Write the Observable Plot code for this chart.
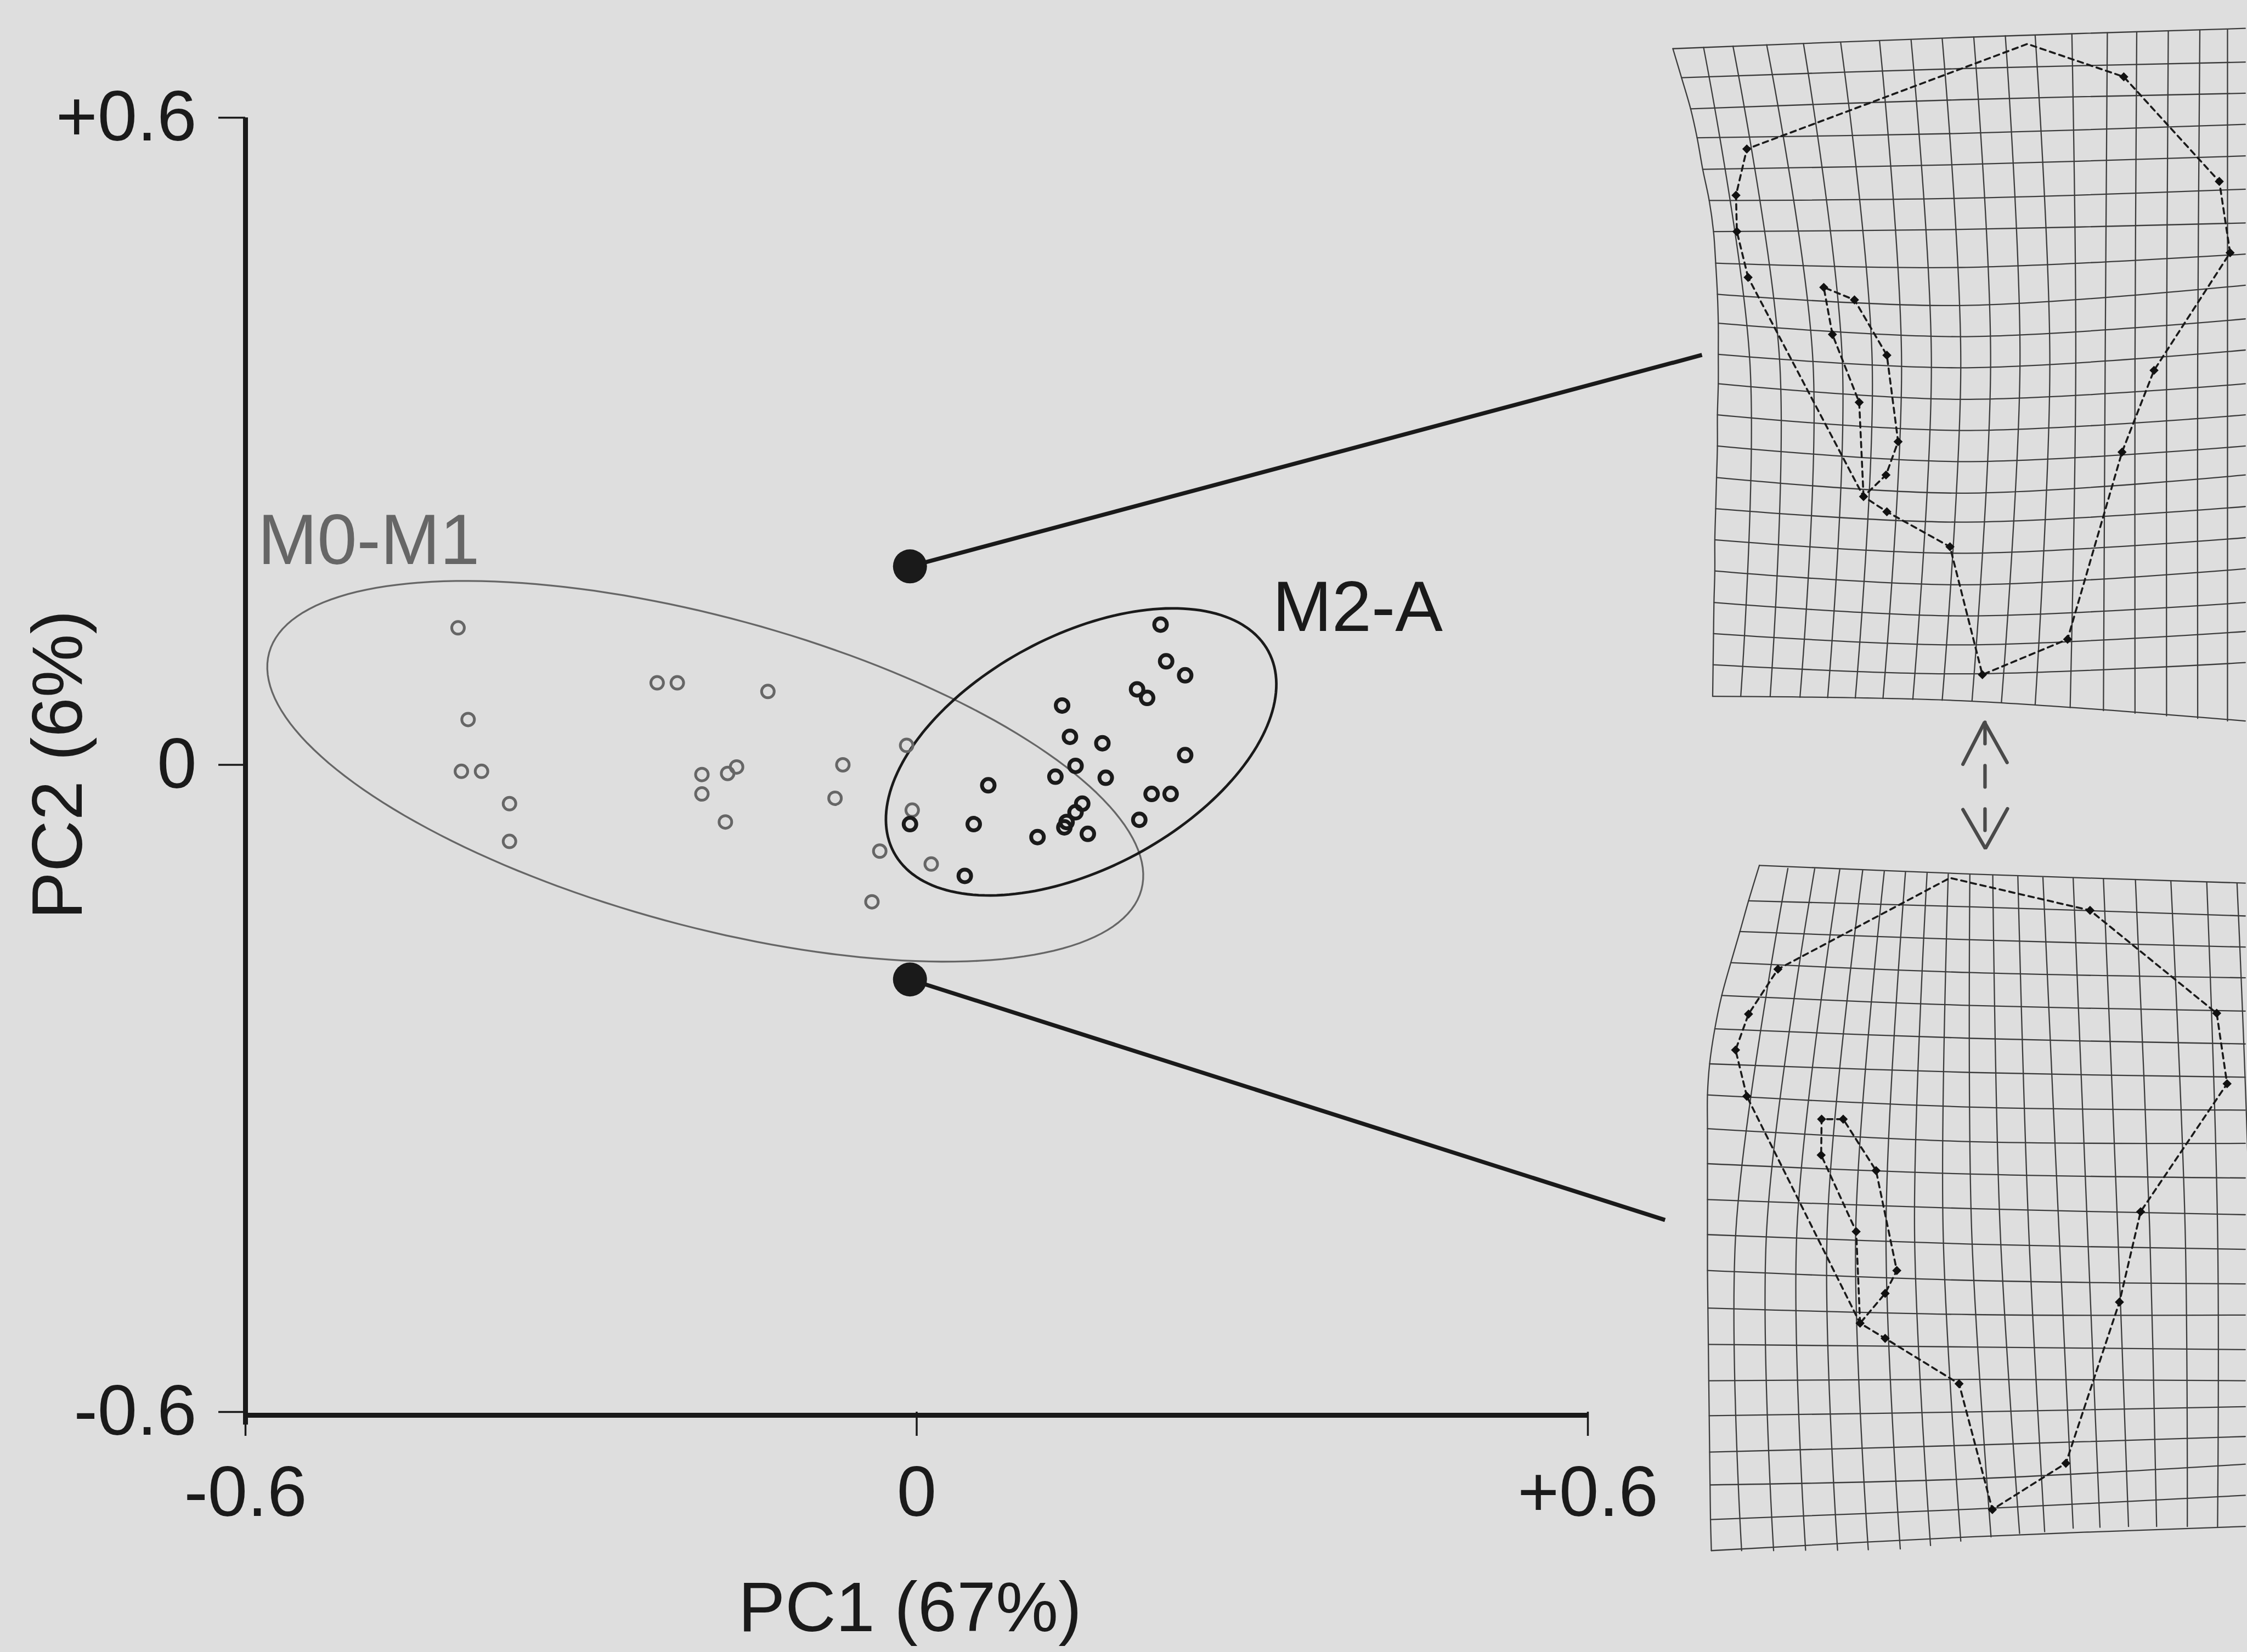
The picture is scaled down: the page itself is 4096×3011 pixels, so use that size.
<!DOCTYPE html>
<html>
<head>
<meta charset="utf-8">
<script src="https://cdn.jsdelivr.net/npm/d3@7"></script>
<script src="https://cdn.jsdelivr.net/npm/@observablehq/plot@0.6"></script>
<style>
html, body { margin: 0; padding: 0; background: #dedede; overflow: hidden; }
#wrap { position: relative; width: 4096px; height: 3011px; overflow: hidden; }
</style>
</head>
<body>
<div id="wrap"></div>
<script>
// ---------------- PCA scatter data ----------------
const xTicks = [-0.6, 0, 0.6];
const xTickLabels = ["-0.6", "0", "+0.6"];
const yTicks = [-0.6, 0, 0.6];
const yTickLabels = ["-0.6", "0", "+0.6"];
const xTitle = "PC1 (67%)";
const yTitle = "PC2 (6%)";

// group M0-M1 (grey open circles)
const m01X = [-0.410,-0.232,-0.214,-0.133,-0.401,-0.407,-0.389,-0.364,-0.364,-0.192,-0.169,-0.161,-0.192,-0.171,-0.066,-0.073,-0.009,-0.004,-0.033,0.013,-0.040];
const m01Y = [0.127,0.076,0.076,0.068,0.042,-0.006,-0.006,-0.036,-0.071,-0.009,-0.008,-0.002,-0.027,-0.053,0.000,-0.031,0.018,-0.042,-0.080,-0.092,-0.127];
// group M2-A (black open circles)
const m2aX = [0.218,0.223,0.240,0.197,0.206,0.130,0.137,0.166,0.240,0.142,0.124,0.169,0.064,0.210,0.227,0.148,0.142,0.134,0.132,0.199,0.153,0.108,0.051,-0.006,0.043];
const m2aY = [0.130,0.096,0.083,0.070,0.062,0.055,0.026,0.020,0.009,-0.001,-0.011,-0.012,-0.019,-0.027,-0.027,-0.036,-0.044,-0.053,-0.058,-0.051,-0.064,-0.067,-0.055,-0.055,-0.103];

// group ellipses (centre, semi-axes in PC1 units, tilt in degrees, counter-clockwise)
const groupNames = ["M0-M1", "M2-A"];
const ellipseCX = [-0.189, 0.147];
const ellipseCY = [-0.006, 0.012];
const ellipseA = [0.404, 0.190];
const ellipseB = [0.138, 0.104];
const ellipseAngle = [-15.2, 28.2];

// group labels
const groupLabelX = [-0.589, 0.318];
const groupLabelY = [0.186, 0.124];

// extremes of PC2 shown as deformation grids
const extremeX = [-0.006, -0.006];
const extremeY = [0.184, -0.199];
const connectorX2 = [0.702, 0.669];
const connectorY2 = [0.380, -0.422];

// ---------------- deformation grid data (inset units) ----------------
// upper grid (PC2 +): rows [leftU, leftV, midV, rightV]
const upMidU = 6.85, upRightU = 13.43, upColMidV = 8.35;
const upRows = [
[0.19,1.12,0.86,0.65],[0.39,1.79,1.58,1.43],[0.60,2.51,2.30,2.15],[0.75,3.18,3.08,2.87],
[0.88,3.91,3.80,3.60],[1.03,4.63,4.58,4.37],[1.13,5.35,5.30,5.15],[1.18,6.08,6.18,5.87],
[1.22,6.80,7.06,6.59],[1.24,7.47,7.78,7.37],[1.24,8.19,8.50,8.09],[1.24,8.87,9.23,8.87],
[1.22,9.59,9.95,9.59],[1.22,10.31,10.67,10.31],[1.20,11.04,11.40,10.98],[1.18,11.76,12.07,11.71],
[1.16,12.48,12.79,12.43],[1.16,13.20,13.52,13.15],[1.14,13.93,14.24,13.93],[1.13,14.65,14.91,14.60],
[1.12,15.37,15.58,15.32],[1.11,16.10,16.20,16.67]];
// columns [topU, topV, midU, botU, botV]
const upCols = [
[0.90,1.09,1.97,1.76,16.10],[1.58,1.06,2.66,2.44,16.11],[2.36,1.03,3.43,3.13,16.12],
[3.21,1.00,4.11,3.77,16.13],[4.07,0.97,4.80,4.41,16.14],[4.97,0.94,5.48,5.05,16.15],
[5.70,0.92,6.17,5.74,16.17],[6.42,0.89,6.85,6.42,16.19],[7.15,0.85,7.54,7.11,16.20],
[7.88,0.82,8.22,7.79,16.24],[8.57,0.81,8.91,8.57,16.30],[9.42,0.78,9.51,9.38,16.36],
[10.24,0.75,10.19,10.15,16.43],[10.92,0.73,10.88,10.88,16.49],[11.65,0.71,11.61,11.61,16.55],
[12.38,0.69,12.33,12.33,16.61],[13.02,0.67,13.02,13.02,16.67]];
const upLmU = [1.90,1.65,1.67,1.93,3.68,4.39,3.88,5.14,4.50,5.40,5.12,4.60,5.14,6.60,7.35,9.32,10.58,11.32,13.08,12.83,10.62];
const upLmV = [3.44,4.51,5.35,6.41,6.64,6.93,7.73,8.21,9.30,10.21,10.98,11.48,11.83,12.64,15.60,14.78,10.45,8.56,5.84,4.19,1.77];
const upApex = [8.39, 1.01];

// lower grid (PC2 -)
const loMidU = 7.10, loRightU = 13.43, loColMidV = 28.42;
const loRows = [
[2.19,20.01,20.21,20.42],[1.94,20.83,20.97,21.18],[1.74,21.54,21.73,21.90],[1.53,22.26,22.49,22.61],
[1.32,23.02,23.25,23.38],[1.16,23.79,24.01,24.14],[1.04,24.60,24.80,24.91],[0.99,25.32,25.60,25.67],
[0.99,26.10,26.40,26.44],[0.99,26.91,27.15,27.24],[0.99,27.74,27.95,28.09],[0.99,28.55,28.77,28.89],
[0.99,29.38,29.61,29.69],[1.00,30.25,30.40,30.41],[1.01,31.09,31.15,31.21],[1.02,31.93,31.90,31.93],
[1.03,32.74,32.65,32.53],[1.04,33.58,33.42,33.22],[1.05,34.34,34.20,33.86],[1.06,35.14,34.90,34.58],
[1.08,35.86,35.54,35.30]];
const loCols = [
[2.85,20.08,1.65,1.78,35.86],[3.47,20.09,2.36,2.52,35.86],[4.05,20.11,3.06,3.26,35.85],
[4.58,20.13,3.76,4.00,35.85],[5.08,20.15,4.42,4.71,35.84],[5.57,20.17,5.12,5.45,35.82],
[6.07,20.19,5.78,6.15,35.74],[6.56,20.21,6.44,6.85,35.64],[7.06,20.23,7.10,7.55,35.54],
[7.59,20.24,7.76,8.21,35.46],[8.17,20.27,8.42,8.79,35.42],[8.75,20.29,9.12,9.45,35.34],
[9.45,20.31,9.78,10.07,35.32],[10.15,20.33,10.48,10.73,35.30],[10.89,20.35,11.22,11.38,35.30],
[11.71,20.38,12.04,12.09,35.30],[12.54,20.40,12.79,12.79,35.30],[13.24,20.42,13.53,13.50,35.30]];
const loLmU = [2.62,1.94,1.64,1.90,3.63,4.13,3.62,4.89,4.43,5.37,5.10,4.52,5.10,6.81,7.58,9.28,10.52,11.01,13.01,12.77,9.84];
const loLmV = [22.41,23.45,24.28,25.35,25.88,25.88,26.71,27.07,28.48,29.38,29.91,30.60,30.95,32.00,34.91,33.84,30.11,28.02,25.06,23.43,21.05];
const loApex = [6.60, 20.30];

// landmark outline order (indices into landmark arrays, "A" = apex of outline)
const outerSeq = [3,2,1,0,"A",20,19,18,17,16,15,14,13,12,11,3];
const innerSeq = [11,8,6,4,5,7,9,10,11];

// double arrow between the two grids
const arrowUpU = [6.90,7.40,7.92], arrowUpV = [17.67,16.70,17.63];
const arrowDnU = [6.90,7.42,7.93], arrowDnV = [18.72,19.62,18.70];
const arrowShaftU = [7.41,7.41], arrowShaftV = [16.70,19.62];

// ---------------- layout ----------------
const W = 4096, H = 3011;
const mL = 447, mR = 1202, mT = 214, mB = 438;
const FONT = "'Liberation Sans', Arial, Helvetica, sans-serif";
const GREY = "#666666", INK = "#1a1a1a";

const m01 = m01X.map((x, i) => ({x, y: m01Y[i]}));
const m2a = m2aX.map((x, i) => ({x, y: m2aY[i]}));

const kx = (W - mL - mR) / 1.2, ky = (H - mT - mB) / 1.2;
function ellipsePts(i) {
  const phi = ellipseAngle[i] * Math.PI / 180;
  const pts = [];
  for (let k = 0; k <= 180; k++) {
    const t = k / 180 * 2 * Math.PI;
    const ex = ellipseA[i] * Math.cos(t) * Math.cos(phi) - ellipseB[i] * Math.sin(t) * Math.sin(phi);
    const ey = ellipseA[i] * Math.cos(t) * Math.sin(phi) + ellipseB[i] * Math.sin(t) * Math.cos(phi);
    pts.push({x: ellipseCX[i] + ex, y: ellipseCY[i] + ey * kx / ky});
  }
  return pts;
}
const connectors = extremeX.map((x, i) => ({x1: x, y1: extremeY[i], x2: connectorX2[i], y2: connectorY2[i]}));
const extremes = extremeX.map((x, i) => ({x, y: extremeY[i]}));

const main = Plot.plot({
  width: W, height: H,
  marginLeft: mL, marginRight: mR, marginTop: mT, marginBottom: mB,
  x: {domain: [-0.6, 0.6], axis: null},
  y: {domain: [-0.6, 0.6], axis: null},
  style: {background: "#dedede", fontFamily: FONT, color: INK},
  marks: [
    Plot.line(ellipsePts(0), {x: "x", y: "y", stroke: GREY, strokeWidth: 3.3}),
    Plot.line(ellipsePts(1), {x: "x", y: "y", stroke: INK, strokeWidth: 4.8}),
    Plot.dot(m01, {x: "x", y: "y", r: 11.5, stroke: GREY, strokeWidth: 5, fill: "none"}),
    Plot.dot(m2a, {x: "x", y: "y", r: 11.5, stroke: INK, strokeWidth: 7, fill: "none"}),
    Plot.link(connectors, {x1: "x1", y1: "y1", x2: "x2", y2: "y2", stroke: INK, strokeWidth: 7.5}),
    Plot.dot(extremes, {x: "x", y: "y", r: 31, fill: INK, stroke: "none"}),
    Plot.ruleX([-0.6], {y1: -0.612, y2: 0.6, stroke: INK, strokeWidth: 9}),
    Plot.ruleY([-0.603], {x1: -0.6, x2: 0.6, stroke: INK, strokeWidth: 9}),
    Plot.axisY({ticks: yTicks, tickSize: 49, tickPadding: 40, strokeWidth: 3.5,
      tickFormat: d => yTickLabels[yTicks.indexOf(d)], fontSize: 130, label: null}),
    Plot.axisX({ticks: xTicks, tickSize: 44, tickPadding: 53, strokeWidth: 3.5,
      tickFormat: d => xTickLabels[xTicks.indexOf(d)], fontSize: 130, label: null}),
    Plot.text([xTitle], {x: -0.006, y: -0.803, text: d => d, fontSize: 128, lineAnchor: "bottom", fill: INK}),
    Plot.text([yTitle], {x: -0.767, y: 0, text: d => d, fontSize: 130, rotate: -90, fill: INK}),
    Plot.text([groupNames[0]], {x: groupLabelX[0], y: groupLabelY[0], text: d => d, fontSize: 130,
      textAnchor: "start", lineAnchor: "bottom", fill: GREY}),
    Plot.text([groupNames[1]], {x: groupLabelX[1], y: groupLabelY[1], text: d => d, fontSize: 130,
      textAnchor: "start", lineAnchor: "bottom", fill: INK})
  ]
});

// ---------------- inset (deformation grids) ----------------
function gridLines(rows, midU, rightU, cols, colMidV, tag) {
  const out = [];
  rows.forEach((r, i) => {
    out.push({id: tag + "r" + i, u: r[0], v: r[1]});
    out.push({id: tag + "r" + i, u: midU, v: r[2]});
    out.push({id: tag + "r" + i, u: rightU, v: r[3]});
  });
  rows.forEach(r => out.push({id: tag + "edge", u: r[0], v: r[1]}));
  cols.forEach((c, i) => {
    out.push({id: tag + "c" + i, u: c[0], v: c[1]});
    out.push({id: tag + "c" + i, u: c[2], v: colMidV});
    out.push({id: tag + "c" + i, u: c[3], v: c[4]});
  });
  return out;
}
function outline(lmU, lmV, apex, seq, id) {
  return seq.map(k => k === "A" ? {id, u: apex[0], v: apex[1]} : {id, u: lmU[k], v: lmV[k]});
}
const grids = gridLines(upRows, upMidU, upRightU, upCols, upColMidV, "up")
  .concat(gridLines(loRows, loMidU, loRightU, loCols, loColMidV, "lo"));
const outlines = outline(upLmU, upLmV, upApex, outerSeq, "uo")
  .concat(outline(upLmU, upLmV, upApex, innerSeq, "ui"))
  .concat(outline(loLmU, loLmV, loApex, outerSeq, "lo"))
  .concat(outline(loLmU, loLmV, loApex, innerSeq, "li"));
const landmarks = upLmU.map((u, i) => ({u, v: upLmV[i]}))
  .concat(loLmU.map((u, i) => ({u, v: loLmV[i]})));
const arrowHeads = arrowUpU.map((u, i) => ({id: "up", u, v: arrowUpV[i]}))
  .concat(arrowDnU.map((u, i) => ({id: "dn", u, v: arrowDnV[i]})));
const arrowShaft = arrowShaftU.map((u, i) => ({u, v: arrowShaftV[i]}));

const IW = 1062, unit = 78.8;
const inset = Plot.plot({
  width: IW, height: H, margin: 0,
  x: {domain: [0, IW / unit], range: [0, IW], axis: null},
  y: {domain: [0, H / unit], range: [0, H], axis: null},
  style: {background: "transparent"},
  marks: [
    Plot.line(grids, {x: "u", y: "v", z: "id", curve: "catmull-rom", stroke: "#3c3c3c", strokeWidth: 2.3}),
    Plot.line(outlines, {x: "u", y: "v", z: "id", stroke: "#1a1a1a", strokeWidth: 3.6, strokeDasharray: "10,8"}),
    Plot.dot(landmarks, {x: "u", y: "v", symbol: "diamond2", r: 7.5, fill: "#111111", stroke: "none"}),
    Plot.line(arrowHeads, {x: "u", y: "v", z: "id", stroke: "#4a4a4a", strokeWidth: 6.3, strokeLinejoin: "miter"}),
    Plot.line(arrowShaft, {x: "u", y: "v", stroke: "#4a4a4a", strokeWidth: 6.3, strokeDasharray: "39,40"})
  ]
});
inset.style.position = "absolute";
inset.style.left = "3034px";
inset.style.top = "0px";

const wrap = document.getElementById("wrap");
main.style.position = "absolute";
main.style.left = "0px";
main.style.top = "0px";
wrap.appendChild(main);
wrap.appendChild(inset);
</script>
</body>
</html>
